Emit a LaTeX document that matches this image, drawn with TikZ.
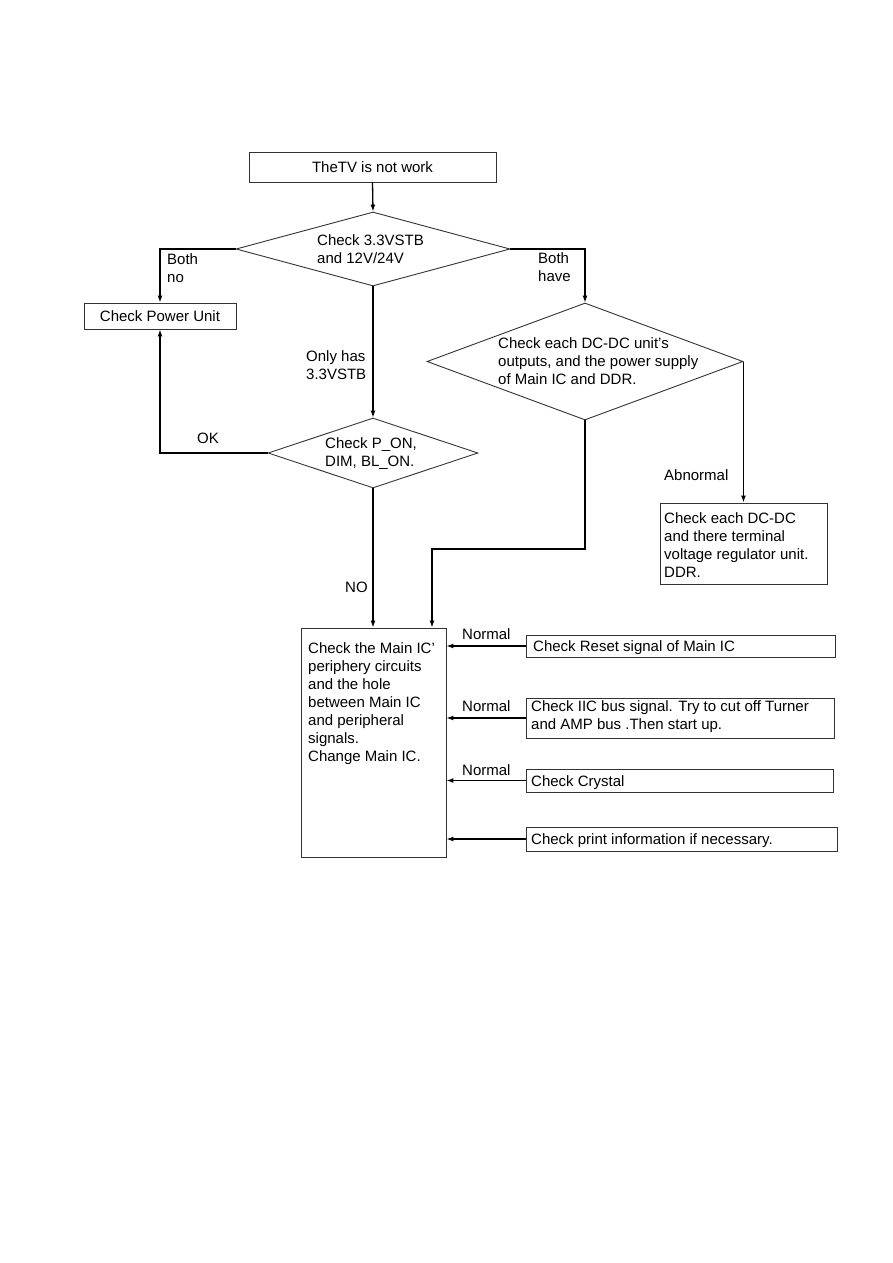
\documentclass[tikz,border=0pt]{standalone}
\usepackage{fontspec}
\setmainfont{Liberation Sans}
\usetikzlibrary{shapes.geometric,arrows.meta}
\begin{document}
\begin{tikzpicture}[x=1pt,y=-1pt,
  every node/.style={font=\fontsize{15}{18}\selectfont},
  box/.style={draw=black!80,line width=0.9pt,rectangle,inner sep=0pt},
  dia/.style={draw=black!80,line width=0.9pt,diamond,inner sep=0pt,aspect=1},
  txt/.style={inner sep=0pt,align=left,anchor=west},
  conn/.style={line width=1.3pt,-{Latex[length=7pt,width=5pt]}}]
\useasboundingbox (0,0) rectangle (893,1263);
\fill[white] (0,0) rectangle (893,1263);

% nodes
\node[box,minimum width=247pt,minimum height=30pt] (top) at (372.5,167) {TheTV is not work};
\node[dia,minimum width=274pt,minimum height=74pt] (d1) at (373,249) {};
\node[txt] (d1t) at (317,249) {Check 3.3VSTB\\and 12V/24V};
\node[box,minimum width=152pt,minimum height=26pt] (pu) at (160,316) {Check Power Unit};
\node[dia,minimum width=316pt,minimum height=117pt] (d2) at (585,361.5) {};
\node[txt] (d2t) at (498,361) {Check each DC-DC unit's\\outputs, and the power supply\\of Main IC and DDR.};
\node[dia,minimum width=210pt,minimum height=70pt] (d3) at (373,453) {};
\node[txt] (d3t) at (325,454) {Check P\_ON,\\DIM, BL\_ON.};
\node[box,minimum width=167pt,minimum height=81pt] (dc) at (743.5,543.5) {};
\node[txt] (dct) at (664,545) {Check each DC-DC\\and there terminal\\voltage regulator unit.\\DDR.};
\node[box,minimum width=145pt,minimum height=229pt] (main) at (373.5,742.5) {};
\node[txt] (maint) at (308,704) {Check the Main IC'\\periphery circuits\\and the hole\\between Main IC\\and peripheral\\signals.\\Change Main IC.};

\node[box,minimum width=309pt,minimum height=22pt] (rst) at (680.5,646) {};
\node[txt] (rstt) at (533,648) {Check Reset signal of Main IC};
\node[box,minimum width=308pt,minimum height=40pt] (iic) at (680,718) {};
\node[txt] (iict) at (531,717) {Check IIC bus signal. Try to cut off Turner\\and AMP bus .Then start up.};
\node[box,minimum width=307pt,minimum height=23pt] (cry) at (679.5,780.5) {};
\node[txt] (cryt) at (531,783) {Check Crystal};
\node[box,minimum width=311pt,minimum height=24pt] (prt) at (681.5,839) {};
\node[txt] (prtt) at (531,841) {Check print information if necessary.};

% labels
\node[txt] (lbno) at (167,268) {Both\\no};
\node[txt] (lbhave) at (538,267) {Both\\have};
\node[txt] (lonly) at (306,365) {Only has\\3.3VSTB};
\node[txt] (lok) at (197,438) {OK};
\node[txt] (lno) at (345,587) {NO};
\node[txt] (labn) at (664,475) {Abnormal};
\node[txt] (ln1) at (462,634) {Normal};
\node[txt] (ln2) at (462,706) {Normal};
\node[txt] (ln3) at (462,770) {Normal};

% connectors
\coordinate (j) at (432,549);
\draw[conn] (top.south) -- (d1.north);
\draw[conn] (d1.west) -| (pu.north);
\draw[conn] (d1.east) -| (d2.north);
\draw[conn] (d1.south) -- (d3.north);
\draw[conn] (d3.west) -| (pu.south);
\draw[conn] (d3.south) -- (d3.south |- main.north);
\draw[conn] (d2.south) |- (j) -- (j |- main.north);
\draw[conn] (d2.east) -- (d2.east |- dc.north);
\draw[conn] (rst.west) -- (rst.west -| main.east);
\draw[conn] (iic.west) -- (iic.west -| main.east);
\draw[conn] (cry.west) -- (cry.west -| main.east);
\draw[conn] (prt.west) -- (prt.west -| main.east);
\end{tikzpicture}
\end{document}
